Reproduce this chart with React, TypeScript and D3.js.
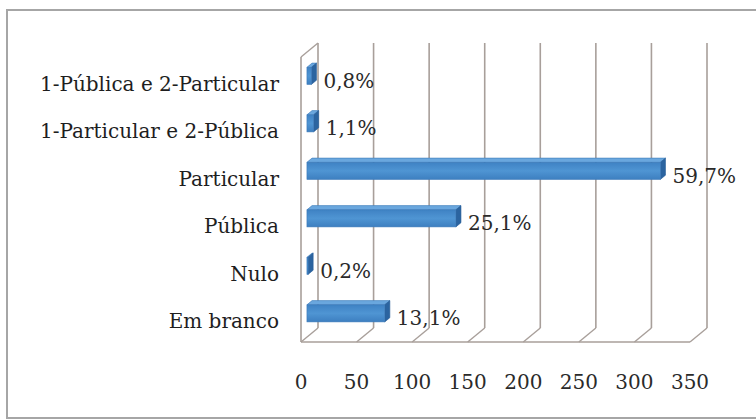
import React from "react";
import * as d3 from "d3";

const categories = [
  "1-Pública e 2-Particular",
  "1-Particular e 2-Pública",
  "Particular",
  "Pública",
  "Nulo",
  "Em branco",
];
const values = [4, 6, 318, 134, 1, 70];
const percentLabels = ["0,8%", "1,1%", "59,7%", "25,1%", "0,2%", "13,1%"];
const ticks = [0, 50, 100, 150, 200, 250, 300, 350];

const W = 756;
const H = 419;
const DX = 17;
const DY = 14;
const D0 = 0.35;
const D1 = 0.65;
const FONT = "'DejaVu Serif', Cambria, serif";

export default function App() {
  const x = d3.scaleLinear().domain([0, 350]).range([301, 690]);
  const y = d3.scaleBand<string>().domain(categories).range([57, 342]);
  const bw = y.bandwidth();
  const barH = bw * 0.36;
  const gridColor = "#a89f9a";
  const frontBottom = 342;
  const frontTop = 57;

  return (
    <svg
      width={W}
      height={H}
      style={{ position: "absolute", left: 0, top: 0, background: "#fff" }}
    >
      <defs>
        <linearGradient id="front" x1="0" y1="0" x2="0" y2="1">
          <stop offset="0" stopColor="#3f82c4" />
          <stop offset="0.5" stopColor="#4f95d3" />
          <stop offset="1" stopColor="#3d7fc0" />
        </linearGradient>
      </defs>
      <rect x={7} y={10} width={770} height={408} fill="#fff" stroke="#a6a6a6" strokeWidth={2} />

      {ticks.map((t) => (
        <line
          key={"g" + t}
          x1={x(t) + DX}
          x2={x(t) + DX}
          y1={frontTop - DY}
          y2={frontBottom - DY}
          stroke={gridColor}
          strokeWidth={1.6}
        />
      ))}
      {ticks.map((t) => (
        <line
          key={"f" + t}
          x1={x(t)}
          y1={frontBottom}
          x2={x(t) + DX}
          y2={frontBottom - DY}
          stroke={gridColor}
          strokeWidth={1.4}
        />
      ))}
      <line x1={x(0)} x2={x(350)} y1={frontBottom} y2={frontBottom} stroke={gridColor} strokeWidth={1.6} />
      <line x1={x(0)} x2={x(0)} y1={frontTop} y2={frontBottom} stroke={gridColor} strokeWidth={1.6} />
      <line x1={x(0)} y1={frontTop} x2={x(0) + DX} y2={frontTop - DY} stroke={gridColor} strokeWidth={1.4} />

      {categories.map((c, i) => {
        const cy = (y(c) as number) + bw / 2;
        const x0 = x(0) + D0 * DX;
        const x1 = x(values[i]) + D0 * DX;
        const yt = cy - barH / 2 - D0 * DY;
        const yb = cy + barH / 2 - D0 * DY;
        const ddx = (D1 - D0) * DX;
        const ddy = (D1 - D0) * DY;
        return (
          <g key={"b" + i}>
            <polygon
              points={`${x0},${yt} ${x1},${yt} ${x1 + ddx},${yt - ddy} ${x0 + ddx},${yt - ddy}`}
              fill="#6aa7de"
              stroke="#3a78b8"
              strokeWidth={0.6}
            />
            <polygon
              points={`${x1},${yt} ${x1 + ddx},${yt - ddy} ${x1 + ddx},${yb - ddy} ${x1},${yb}`}
              fill="#2b64a0"
              stroke="#2a5f98"
              strokeWidth={0.6}
            />
            <rect
              x={x0}
              y={yt}
              width={Math.max(0.5, x1 - x0)}
              height={yb - yt}
              fill="url(#front)"
              stroke="#3a78b8"
              strokeWidth={0.6}
            />
            <text
              x={x1 + ddx + 7}
              y={cy}
              dominantBaseline="central"
              fontFamily={FONT}
              fontSize={20}
              fill="#2a2a2a"
            >
              {percentLabels[i]}
            </text>
          </g>
        );
      })}

      {categories.map((c) => (
        <text
          key={"c" + c}
          x={279}
          y={(y(c) as number) + bw / 2 + 3}
          textAnchor="end"
          dominantBaseline="central"
          fontFamily={FONT}
          fontSize={20}
          fill="#1e1e1e"
        >
          {c}
        </text>
      ))}

      {ticks.map((t) => (
        <text
          key={"t" + t}
          x={x(t)}
          y={382}
          textAnchor="middle"
          dominantBaseline="central"
          fontFamily={FONT}
          fontSize={20}
          fill="#2a2a2a"
        >
          {t}
        </text>
      ))}
    </svg>
  );
}
